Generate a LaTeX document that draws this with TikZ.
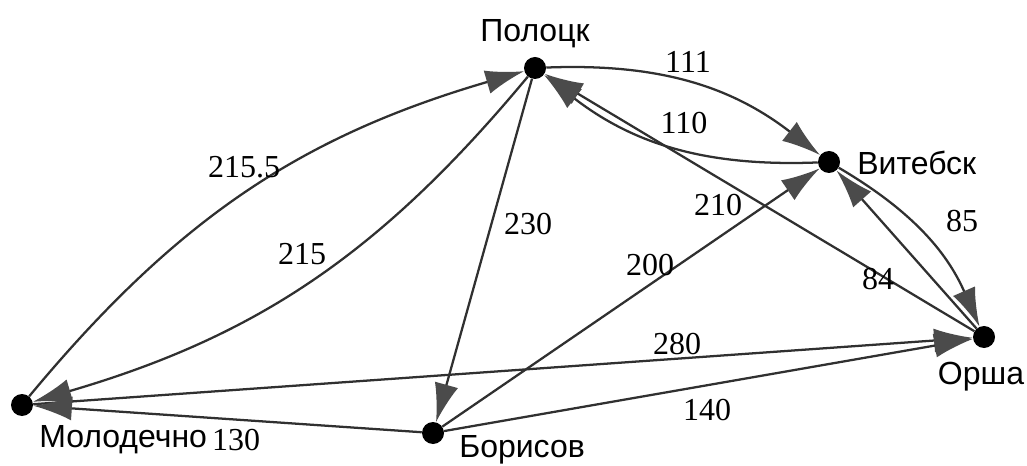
\documentclass[tikz,border=0pt]{standalone}
\usepackage{fontspec}
\setmainfont{Liberation Serif}
\newfontfamily\citysf{Liberation Sans}
\usepackage{xcolor}
\usepackage{tikz}
\usetikzlibrary{arrows.meta}
\definecolor{edgegray}{RGB}{48,48,48}
\definecolor{tipgray}{RGB}{75,75,75}

\begin{document}
\begin{tikzpicture}[x=0.75pt,y=0.75pt,yscale=-1,xscale=1,
  vtx/.style={circle,fill=black,inner sep=0pt,minimum size=16.5pt},
  city/.style={inner sep=0.75pt,font=\citysf\fontsize{24}{28}\selectfont},
  wt/.style={inner sep=0.75pt,font=\fontsize{24}{28}\selectfont},
  arc/.style={draw=edgegray,line width=1.7pt,-{Latex[length=29pt,width=18pt,color=tipgray]}}]

\useasboundingbox (0,0) rectangle (1027,466);

% towns
\node [vtx] (P) at (535,68) {};
\node [vtx] (V) at (829,162) {};
\node [vtx] (O) at (984,337) {};
\node [vtx] (M) at (22,405) {};
\node [vtx] (B) at (433,433) {};

\node [city] (Ptxt) at (535,34) {Полоцк};
\node [city,anchor=west] (Vtxt) at (856,163) {Витебск};
\node [city] (Otxt) at (981,377) {Орша};
\node [city,anchor=west] (Mtxt) at (38,440) {Молодечно};
\node [city,anchor=west] (Btxt) at (458,450) {Борисов};

% roads
\draw [arc] (M) to[bend right=17] (P);
\draw [arc] (P) to[bend right=17] (M);
\draw [arc] (P) -- (B);
\draw [arc] (P) to[bend right=20] (V);
\draw [arc] (V) to[bend right=20] (P);
\draw [arc] (O) -- (P);
\draw [arc] (B) -- (V);
\draw [arc] (V) to[bend right=18] (O);
\draw [arc] (O) -- (V);
\draw [arc] (M) -- (O);
\draw [arc] (B) -- (O);
\draw [arc] (B) -- (M);

% distances
\node [wt] (w1) at (244,167) {215.5};
\node [wt] (w2) at (302,254) {215};
\node [wt] (w3) at (528,224) {230};
\node [wt] (w4) at (688,62) {111};
\node [wt] (w5) at (684,123) {110};
\node [wt] (w6) at (718,205) {210};
\node [wt] (w7) at (650,265) {200};
\node [wt] (w8) at (962,221) {85};
\node [wt] (w9) at (878,279) {84};
\node [wt] (w10) at (677,344) {280};
\node [wt] (w11) at (707,410) {140};
\node [wt] (w12) at (236,440) {130};

\end{tikzpicture}
\end{document}
